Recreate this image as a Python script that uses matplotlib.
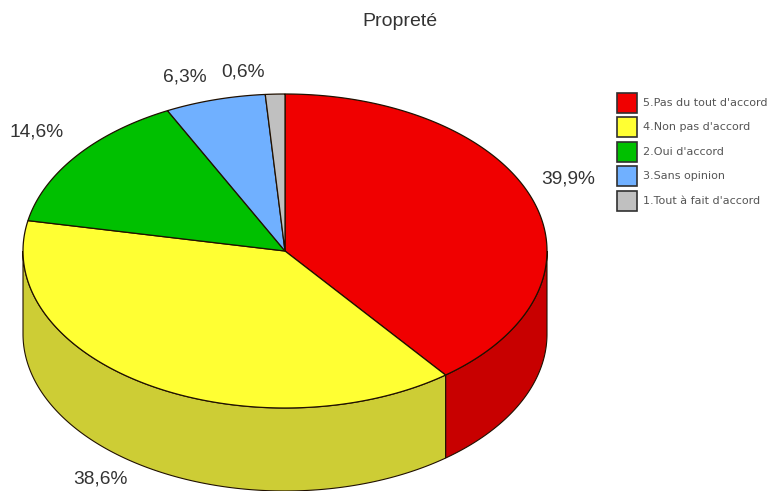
import numpy as np
import matplotlib
matplotlib.use('Agg')
import matplotlib.pyplot as plt
from matplotlib.patches import Polygon, Rectangle

title = 'Propreté'
categories = ["5.Pas du tout d'accord", "4.Non pas d'accord", "2.Oui d'accord", "3.Sans opinion", "1.Tout à fait d'accord"]
# printed labels
labels = ['39,9%', '38,6%', '14,6%', '6,3%', '0,6%']
# share each slice actually takes in the drawing
shares = [39.5, 38.6, 14.5, 6.2, 1.2]
colors = ['#f00000', '#ffff33', '#00c000', '#70b0ff', '#c0c0c0']
side_colors = ['#c80000', '#cdcd35', '#009000', '#5a8ccc', '#9a9a9a']
label_pos = [(568, 179), (100, 479), (37, 132), (185, 77), (243, 72)]

# pie geometry in pixels
cx, cy = 285, 251
rx, ry = 262, 157
depth = 83

fig = plt.figure(figsize=(7.7, 4.91), dpi=100)
ax = fig.add_axes([0, 0, 1, 1])
ax.set_xlim(0, 770)
ax.set_ylim(491, 0)
ax.axis('off')


def rim(a0, a1, dy=0):
    t = np.radians(np.linspace(a0, a1, 200))
    return np.column_stack([cx + rx * np.cos(t), cy - ry * np.sin(t) + dy])


# slices run clockwise from 12 o'clock
edges = 90 - np.cumsum([0] + shares) * 3.6

# side wall, only the front half of the ellipse shows
for i in range(len(shares)):
    a1, a0 = edges[i], edges[i + 1]  # a0 < a1
    for off in (0, -360):
        lo = max(a0 + off, -180)
        hi = min(a1 + off, 0)
        if hi > lo:
            pts = np.vstack([rim(lo, hi), rim(hi, lo, depth)])
            ax.add_patch(Polygon(pts, closed=True, fc=side_colors[i], ec='#201000', lw=0.8, zorder=2))

# top face
for i in range(len(shares)):
    pts = np.vstack([[cx, cy], rim(edges[i], edges[i + 1])])
    ax.add_patch(Polygon(pts, closed=True, fc=colors[i], ec='#201000', lw=0.9, zorder=3))

for txt, (x, y) in zip(labels, label_pos):
    ax.text(x, y, txt, ha='center', va='center', fontsize=13.8, family='Liberation Sans', color='#333333')

ax.text(400, 21, title, ha='center', va='center', fontsize=14, family='Liberation Sans', color='#333333')

# legend
for i, name in enumerate(categories):
    y = 93 + i * 24.4
    ax.add_patch(Rectangle((617, y), 20, 20, fc=colors[i], ec='#303030', lw=1.2))
    ax.text(643, y + 10, name, ha='left', va='center', fontsize=8, family='DejaVu Sans', color='#555555')

fig.savefig('out.png', dpi=100)
